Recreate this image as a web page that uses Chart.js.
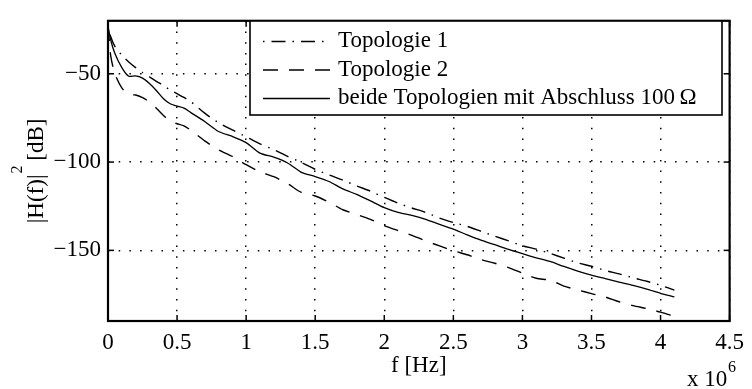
<!DOCTYPE html>
<html lang="de">
<head>
    <meta charset="UTF-8">
    <title>Übertragungsfunktion</title>
    <script src="https://cdn.jsdelivr.net/npm/chart.js"></script>
    <style>
        html, body { margin: 0; padding: 0; background: #fff; }
    </style>
</head>
<body>
    <canvas id="myChart" width="752" height="389"></canvas>

    <script>
        // Frequenz in MHz (Achse "x 10^6")
        const freq = [0, 0.02, 0.05, 0.1, 0.15, 0.2, 0.25, 0.3, 0.35, 0.4, 0.45, 0.5, 0.55, 0.6,
            0.7, 0.8, 0.9, 1.0, 1.1, 1.2, 1.3, 1.4, 1.5, 1.6, 1.7, 1.8, 1.9, 2.0, 2.1, 2.2, 2.3,
            2.4, 2.5, 2.6, 2.7, 2.8, 2.9, 3.0, 3.1, 3.2, 3.3, 3.4, 3.5, 3.6, 3.7, 3.8, 3.9, 4.0, 4.1];

        // |H(f)|^2 in dB
        const topologie1 = [-23, -29, -34.5, -39.5, -43.3, -46.5, -49.3, -51.8, -54.3, -56.6, -59.2, -61.3, -63.4, -65.8,
            -72.3, -77.7, -81.8, -85.7, -89.7, -93, -96.8, -100.2, -104.1, -107.3, -110.2, -113.5, -116.5, -120, -123.3, -126, -128.5,
            -131.7, -134.2, -136.4, -139.2, -142, -144.6, -147.4, -149.3, -151.7, -154.4, -157.1, -159, -161.4, -163.3, -165.5, -167.5, -169.8, -172.5];

        const topologie2 = [-23, -40, -50, -58, -61.8, -62, -63.5, -66, -69.5, -73.5, -77, -78.3, -79.5, -82,
            -88, -93, -96.8, -101.5, -105.5, -108.3, -112.2, -117.2, -119.2, -122.7, -127, -129.7, -132.5, -136, -138.8, -141.5, -144.6,
            -147.5, -150.2, -152.5, -155.2, -157.3, -159.8, -162.9, -165.8, -166.9, -170.2, -172.4, -174.5, -176.4, -179.1, -181.3, -183, -185, -187.4];

        const abschluss = [-23, -31, -38.5, -46.5, -51.4, -51.2, -52.5, -55.5, -59.5, -64, -67, -68.3, -69.5, -72,
            -77, -82.7, -85.5, -89, -94.9, -97.2, -100.5, -105.8, -108.2, -111, -115.2, -118.3, -122, -125.8, -128.5, -130.2, -132.4,
            -135.3, -138, -141.2, -144.2, -146.8, -149.5, -151.9, -154.2, -156.3, -159.1, -161.7, -164, -166, -168, -169.8, -171.9, -174.3, -176.4];

        const seriesNames = ['Topologie 1', 'Topologie 2', 'beide Topologien mit Abschluss 100\u2009\u03A9'];
        const xTicks = [0, 0.5, 1, 1.5, 2, 2.5, 3, 3.5, 4, 4.5];
        const yTicks = [-150, -100, -50];

        const FONT = "'Liberation Serif', 'Times New Roman', serif";
        Chart.defaults.font.family = FONT;
        Chart.defaults.font.size = 23;
        Chart.defaults.color = '#000';

        const toPoints = (ys) => freq.map((f, i) => ({ x: f, y: ys[i] }));

        // Rahmen, Ticks nach innen, Achsentitel und Legende
        const decor = {
            id: 'decor',
            afterDraw(chart) {
                const { ctx, chartArea: a, scales: { x, y } } = chart;
                const line = (x1, y1, x2, y2) => { ctx.beginPath(); ctx.moveTo(x1, y1); ctx.lineTo(x2, y2); ctx.stroke(); };
                ctx.save();
                ctx.strokeStyle = '#000';
                ctx.fillStyle = '#000';
                ctx.setLineDash([]);

                ctx.lineWidth = 1.5;
                xTicks.forEach(v => {
                    const px = x.getPixelForValue(v);
                    line(px, a.bottom, px, a.bottom - 6);
                    line(px, a.top, px, a.top + 6);
                });
                yTicks.forEach(v => {
                    const py = y.getPixelForValue(v);
                    line(a.left, py, a.left + 6, py);
                    line(a.right, py, a.right - 6, py);
                });

                ctx.lineWidth = 2.2;
                ctx.strokeRect(a.left, a.top, a.right - a.left, a.bottom - a.top);

                // x-Titel
                ctx.font = '23px ' + FONT;
                ctx.textAlign = 'center';
                ctx.textBaseline = 'alphabetic';
                ctx.fillText('f [Hz]', (a.left + a.right) / 2, 372);

                // Exponent
                ctx.textAlign = 'left';
                ctx.fillText('x 10', 687, 386);
                ctx.font = '16px ' + FONT;
                ctx.fillText('6', 728, 372);

                // y-Titel
                ctx.save();
                ctx.translate(43, (a.top + a.bottom) / 2);
                ctx.rotate(-Math.PI / 2);
                ctx.font = '23px ' + FONT;
                const p1 = '|H(f)|', p2 = '2', p3 = ' [dB]';
                const w1 = ctx.measureText(p1).width, w3 = ctx.measureText(p3).width;
                ctx.font = '16px ' + FONT;
                const w2 = ctx.measureText(p2).width;
                let cx = -(w1 + w2 + w3) / 2;
                ctx.font = '23px ' + FONT;
                ctx.fillText(p1, cx, 0);
                cx += w1;
                ctx.font = '16px ' + FONT;
                ctx.fillText(p2, cx + 1, -21);
                cx += w2;
                ctx.font = '23px ' + FONT;
                ctx.fillText(p3, cx, 0);
                ctx.restore();

                // Legende
                const lx = 250, ly = 21, lw = 472, lh = 94;
                ctx.fillStyle = '#fff';
                ctx.fillRect(lx, ly, lw, lh);
                ctx.lineWidth = 1.6;
                ctx.strokeRect(lx, ly, lw, lh);
                ctx.fillStyle = '#000';
                ctx.font = '23px ' + FONT;
                const rowsY = [41.5, 70, 98.5];
                chart.data.datasets.forEach((ds, i) => {
                    const ry = rowsY[i];
                    ctx.lineWidth = ds.borderWidth;
                    ctx.setLineDash(ds.borderDash || []);
                    line(263, ry, 330, ry);
                    ctx.setLineDash([]);
                    ctx.fillText(ds.label, 338, ry + 5.5);
                });
                ctx.restore();
            }
        };

        const ctx = document.getElementById('myChart').getContext('2d');
        const chart = new Chart(ctx, {
            type: 'line',
            data: {
                datasets: [{
                    label: seriesNames[0],
                    data: toPoints(topologie1),
                    borderColor: '#000',
                    borderWidth: 1.4,
                    borderDash: [1.5, 7, 14, 7],
                    pointRadius: 0,
                    tension: 0.25,
                    fill: false
                }, {
                    label: seriesNames[1],
                    data: toPoints(topologie2),
                    borderColor: '#000',
                    borderWidth: 1.4,
                    borderDash: [15, 11],
                    pointRadius: 0,
                    tension: 0.25,
                    fill: false
                }, {
                    label: seriesNames[2],
                    data: toPoints(abschluss),
                    borderColor: '#000',
                    borderWidth: 1.3,
                    pointRadius: 0,
                    tension: 0.25,
                    fill: false
                }]
            },
            options: {
                responsive: false,
                animation: false,
                layout: { padding: { top: 13, right: 16, left: 0, bottom: 0 } },
                plugins: {
                    legend: { display: false },
                    tooltip: { enabled: false }
                },
                scales: {
                    x: {
                        type: 'linear',
                        min: 0,
                        max: 4.5,
                        afterBuildTicks: axis => { axis.ticks = xTicks.map(v => ({ value: v })); },
                        afterFit: axis => { axis.height = 68; },
                        ticks: {
                            padding: 8,
                            maxRotation: 0,
                            callback: v => String(v)
                        },
                        grid: { color: '#000', lineWidth: 1.5, drawTicks: false },
                        border: { display: false, dash: [1.5, 9.2] }
                    },
                    y: {
                        min: -190,
                        max: -20,
                        afterBuildTicks: axis => { axis.ticks = yTicks.map(v => ({ value: v })); },
                        afterFit: axis => { axis.width = 108; },
                        ticks: {
                            padding: 7,
                            callback: v => '\u2212' + Math.abs(v)
                        },
                        grid: { color: '#000', lineWidth: 1.5, drawTicks: false },
                        border: { display: false, dash: [1.5, 9.2] }
                    }
                }
            },
            plugins: [decor]
        });
    </script>
</body>
</html>
